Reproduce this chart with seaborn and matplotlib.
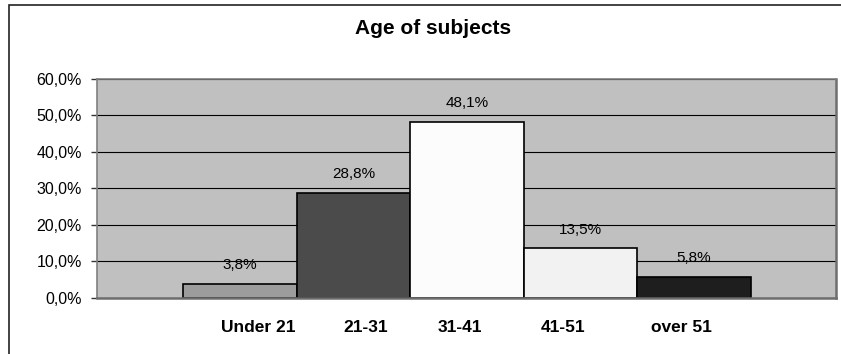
import matplotlib
matplotlib.use("Agg")
import matplotlib.pyplot as plt
import matplotlib.transforms as mtransforms
from matplotlib.patches import Rectangle
from matplotlib.ticker import FuncFormatter, MultipleLocator
import seaborn as sns
import pandas as pd

# Age distribution of subjects (percent)
age_groups = ["Under 21", "21-31", "31-41", "41-51", "over 51"]
shares = [3.8, 28.8, 48.1, 13.5, 5.8]
bar_colors = ["#9c9c9c", "#4b4b4b", "#fcfcfc", "#f2f2f2", "#1e1e1e"]

df = pd.DataFrame({"group": age_groups, "share": shares})

sns.set_theme(style="white")
plt.rcParams["font.family"] = ["Liberation Sans", "DejaVu Sans"]

fig = plt.figure(figsize=(8.41, 3.54), dpi=100)
ax = fig.add_axes([97 / 841, 1 - 297.7 / 354, (836 - 97) / 841, (297.7 - 78.7) / 354])

sns.barplot(data=df, x="group", y="share", hue="group", palette=bar_colors,
            order=age_groups, hue_order=age_groups, width=1.0,
            edgecolor="black", linewidth=1.2, legend=False, ax=ax, zorder=3)

ax.set_facecolor("#c0c0c0")
ax.set_ylim(0, 60)
ax.set_xlim(-1.26, 5.25)
ax.yaxis.set_major_locator(MultipleLocator(10))
ax.yaxis.set_major_formatter(FuncFormatter(lambda v, _: f"{v:.1f}%".replace(".", ",")))
ax.grid(axis="y", color="black", linewidth=0.8)
ax.set_axisbelow(True)
ax.set_xlabel("")
ax.set_ylabel("")

for side in ["top", "left"]:
    ax.spines[side].set_color("#808080")
    ax.spines[side].set_linewidth(1.2)
for side in ["right", "bottom"]:
    ax.spines[side].set_color("#6e6e6e")
    ax.spines[side].set_linewidth(1.8)
for sp in ax.spines.values():
    sp.set_zorder(4)

ax.tick_params(axis="y", left=True, length=4, width=1, color="#333333",
               pad=7, labelsize=11.5, labelcolor="black")
ax.tick_params(axis="x", bottom=False, pad=10, labelsize=12.5, labelcolor="black")
for lbl in ax.get_xticklabels():
    lbl.set_fontweight("bold")

# nudge category labels the way the original layout spaces them
label_shift_px = [18, 12.5, -7.5, -17.5, -13]
for lbl, dx in zip(ax.get_xticklabels(), label_shift_px):
    lbl.set_transform(lbl.get_transform() +
                      mtransforms.ScaledTranslation(dx / 100, 0, fig.dpi_scale_trans))

# value labels above each bar
for i, v in enumerate(shares):
    ax.annotate(f"{v:.1f}%".replace(".", ","), xy=(i, v), xytext=(0, 13.5),
                textcoords="offset points", ha="center", va="center",
                fontsize=11, color="black", zorder=5)

fig.text(433 / 841, 1 - 28 / 354, "Age of subjects", ha="center", va="center",
         fontsize=15, fontweight="bold", color="black")

# chart-area frame
fig.patches.append(Rectangle((8.5 / 841, -0.1), 1.2, 349.3 / 354 + 0.1,
                             transform=fig.transFigure, fill=False,
                             edgecolor="#222222", linewidth=1.2, clip_on=False))

fig.savefig("out.png", dpi=100)
